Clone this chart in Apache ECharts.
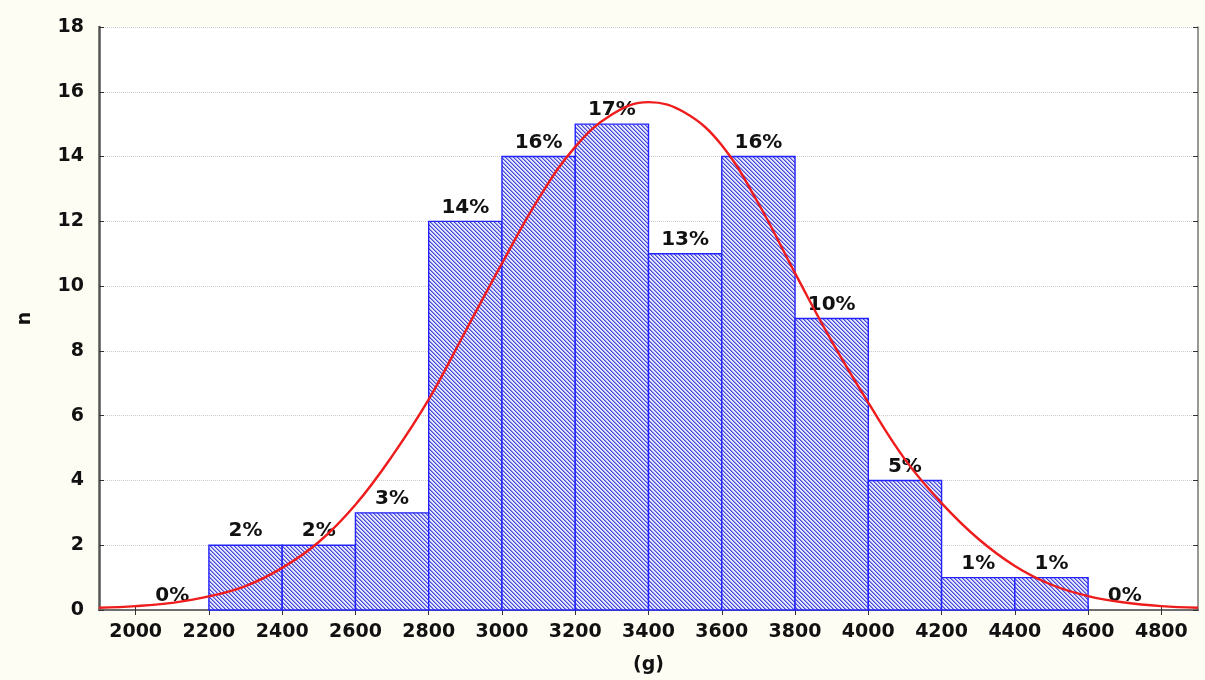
<!DOCTYPE html>
<html>
<head>
<meta charset="utf-8">
<script src="https://cdn.jsdelivr.net/npm/echarts@6/dist/echarts.min.js"></script>
<style>
html, body { margin: 0; padding: 0; background: #fefdf4; }
#chart { width: 1205px; height: 680px; }
</style>
</head>
<body>
<div id="chart"></div>
<script>
// histogram classes (lower edge, g) and counts
var binStart = [2000, 2200, 2400, 2600, 2800, 3000, 3200, 3400, 3600, 3800, 4000, 4200, 4400, 4600];
var counts = [0, 2, 2, 3, 12, 14, 15, 11, 14, 9, 4, 1, 1, 0];
var pctLabels = ['0%', '2%', '2%', '3%', '14%', '16%', '17%', '13%', '16%', '10%', '5%', '1%', '1%', '0%'];
var binWidth = 200;

var xTicks = [2000, 2200, 2400, 2600, 2800, 3000, 3200, 3400, 3600, 3800, 4000, 4200, 4400, 4600, 4800];

// fitted normal curve
var curveX = [1900, 2000, 2100, 2200, 2300, 2400, 2500, 2600, 2700, 2800, 2900, 3000, 3100, 3200, 3300, 3400,
              3500, 3600, 3700, 3800, 3900, 4000, 4100, 4200, 4300, 4400, 4500, 4600, 4700, 4800, 4900];
var curveY = [0.07, 0.12, 0.22, 0.42, 0.74, 1.3, 2.1, 3.25, 4.75, 6.5, 8.6, 10.7, 12.7, 14.3, 15.3, 15.68,
              15.35, 14.35, 12.55, 10.4, 8.3, 6.4, 4.65, 3.3, 2.2, 1.36, 0.78, 0.43, 0.23, 0.12, 0.07];

// diagonal hatch pattern
var hatch = document.createElement('canvas');
hatch.width = 4;
hatch.height = 4;
var hctx = hatch.getContext('2d');
hctx.fillStyle = '#e4e6fb';
hctx.fillRect(0, 0, 4, 4);
for (var i = 0; i < 4; i++) {
  hctx.fillStyle = '#4646d8';
  hctx.fillRect(i, i, 1, 1);
  hctx.fillStyle = '#9597ea';
  hctx.fillRect((i + 1) % 4, i, 1, 1);
}

var fontFam = '"DejaVu Sans", Arial, sans-serif';
var labelFont = 'bold 20px ' + fontFam;

var myChart = echarts.init(document.getElementById('chart'));

var option = {
  backgroundColor: '#fefdf4',
  animation: false,
  grid: {
    left: 99,
    right: 7,
    top: 27,
    bottom: 70,
    show: true,
    backgroundColor: '#ffffff',
    borderWidth: 0
  },
  xAxis: [{
    type: 'value',
    min: 1900,
    max: 4900,
    name: '(g)',
    nameLocation: 'middle',
    nameGap: 46,
    nameTextStyle: { color: '#111', fontSize: 19, fontWeight: 'bold', fontFamily: 'DejaVu Sans' },
    axisLine: { show: true, onZero: false, lineStyle: { color: '#555', width: 2 } },
    axisTick: { show: true, inside: true, length: 5, customValues: xTicks, lineStyle: { color: '#333' } },
    axisLabel: {
      customValues: xTicks,
      margin: 13,
      color: '#111',
      fontSize: 19,
      fontWeight: 'bold',
      fontFamily: 'DejaVu Sans',
      formatter: function (v) { return String(v); }
    },
    splitLine: { show: false }
  }, {
    type: 'value',
    position: 'top',
    min: 1900,
    max: 4900,
    axisLine: { show: true, lineStyle: { color: '#777', width: 1.5 } },
    axisTick: { show: true, inside: true, length: 5, customValues: xTicks, lineStyle: { color: '#333' } },
    axisLabel: { show: false },
    splitLine: { show: false }
  }],
  yAxis: [{
    type: 'value',
    min: 0,
    max: 18,
    interval: 2,
    name: 'n',
    nameLocation: 'middle',
    nameRotate: 90,
    nameGap: 64,
    nameTextStyle: { color: '#111', fontSize: 19, fontWeight: 'bold', fontFamily: 'DejaVu Sans' },
    axisLine: { show: true, lineStyle: { color: '#555', width: 2.5 } },
    axisTick: { show: true, inside: true, length: 5, lineStyle: { color: '#333' } },
    axisLabel: {
      margin: 15,
      color: '#111',
      fontSize: 19,
      fontWeight: 'bold',
      fontFamily: 'DejaVu Sans'
    },
    splitLine: { show: true, lineStyle: { color: '#cccccc', type: 'dotted', width: 1 } }
  }, {
    type: 'value',
    position: 'right',
    min: 0,
    max: 18,
    interval: 2,
    axisLine: { show: true, lineStyle: { color: '#777', width: 1.5 } },
    axisTick: { show: true, inside: true, length: 5, lineStyle: { color: '#333' } },
    axisLabel: { show: false },
    splitLine: { show: false }
  }],
  series: [
    {
      type: 'custom',
      xAxisIndex: 0,
      yAxisIndex: 0,
      data: binStart.map(function (b, i) { return [b, counts[i]]; }),
      encode: { x: 0, y: 1 },
      renderItem: function (params, api) {
        var x0 = api.value(0);
        var n = api.value(1);
        var p0 = api.coord([x0, n]);
        var p1 = api.coord([x0 + binWidth, 0]);
        var children = [];
        if (n > 0) {
          children.push({
            type: 'rect',
            shape: { x: p0[0], y: p0[1], width: p1[0] - p0[0], height: p1[1] - p0[1] },
            style: { fill: { image: hatch, repeat: 'repeat' }, stroke: '#2222ff', lineWidth: 1.4 }
          });
        }
        children.push({
          type: 'text',
          x: (p0[0] + p1[0]) / 2,
          y: p0[1] - 4,
          style: {
            text: pctLabels[params.dataIndex],
            align: 'center',
            verticalAlign: 'bottom',
            font: labelFont,
            fill: '#111'
          }
        });
        return { type: 'group', children: children };
      }
    },
    {
      type: 'line',
      xAxisIndex: 0,
      yAxisIndex: 0,
      data: curveX.map(function (x, i) { return [x, curveY[i]]; }),
      smooth: 0.4,
      showSymbol: false,
      lineStyle: { color: '#ee1c1c', width: 2.4 },
      z: 5
    }
  ]
};

myChart.setOption(option);
</script>
</body>
</html>
